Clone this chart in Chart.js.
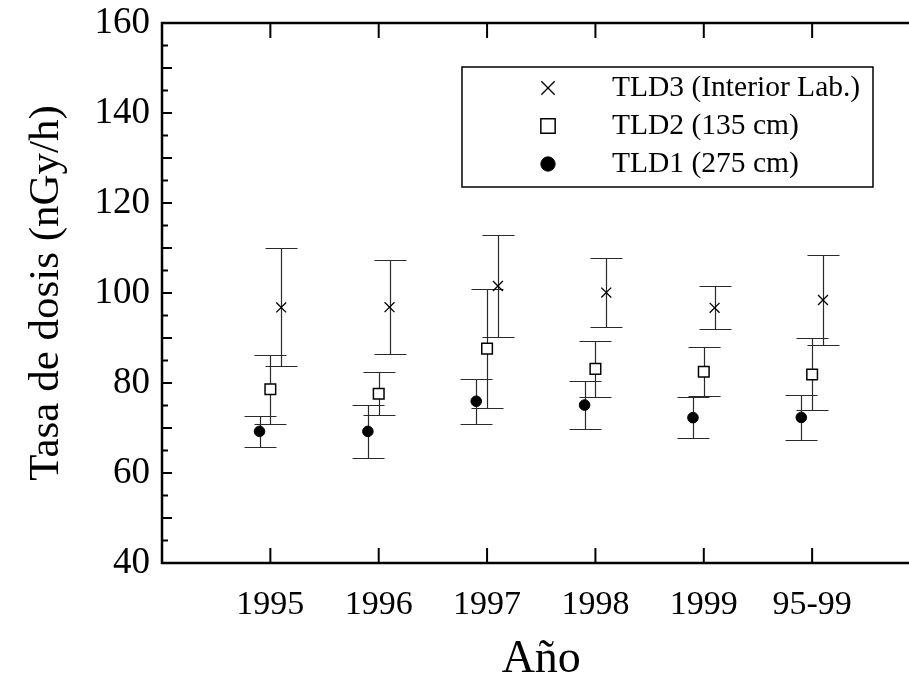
<!DOCTYPE html>
<html>
<head>
<meta charset="utf-8">
<script src="https://cdn.jsdelivr.net/npm/chart.js@4.4.1/dist/chart.umd.min.js"></script>
<style>
  html, body { margin: 0; padding: 0; background: #fff; overflow: hidden; }
  #wrap { width: 940px; height: 680px; }
</style>
</head>
<body>
<div id="wrap"><canvas id="myChart" width="940" height="680"></canvas></div>
<script>
const years = ['1995', '1996', '1997', '1998', '1999', '95-99'];

// dose rates (nGy/h) and their errors, one per year
const tld1 = [69.25, 69.25, 75.95, 75.1, 72.3, 72.35];
const tld1Err = [3.45, 5.95, 5.05, 5.3, 4.6, 4.95];
const tld2 = [78.6, 77.6, 87.65, 83.15, 82.5, 81.9];
const tld2Err = [7.6, 4.8, 13.15, 6.15, 5.4, 8.0];
const tld3 = [96.8, 96.85, 101.55, 100.1, 96.7, 98.45];
const tld3Err = [13.1, 10.45, 11.35, 7.7, 4.8, 9.95];

const yMin = 40, yMax = 160;
const SERIF = "'Liberation Serif', 'Times New Roman', serif";

function points(values, shift) {
    return values.map((v, i) => ({ x: i + 1 + shift, y: v }));
}

// vertical bars with caps, drawn under the markers
const errorBars = {
    id: 'errorBars',
    beforeDatasetsDraw(chart) {
        const { ctx, scales: { x, y } } = chart;
        ctx.save();
        ctx.strokeStyle = '#2a2a2a';
        ctx.lineWidth = 1.2;
        chart.data.datasets.forEach(ds => {
            ds.data.forEach((p, i) => {
                const px = Math.round(x.getPixelForValue(p.x)) + 0.5;
                const top = Math.round(y.getPixelForValue(p.y + ds.errors[i])) + 0.5;
                const bot = Math.round(y.getPixelForValue(p.y - ds.errors[i])) + 0.5;
                ctx.beginPath();
                ctx.moveTo(px, top);
                ctx.lineTo(px, bot);
                ctx.moveTo(px - 16, top);
                ctx.lineTo(px + 16, top);
                ctx.moveTo(px - 16, bot);
                ctx.lineTo(px + 16, bot);
                ctx.stroke();
            });
        });
        ctx.restore();
    }
};

// box frame with inward tick marks
const frame = {
    id: 'frame',
    afterDraw(chart) {
        const { ctx, chartArea: a, scales: { x, y } } = chart;
        ctx.save();
        ctx.strokeStyle = '#000';
        ctx.lineWidth = 2.5;
        ctx.strokeRect(a.left, a.top, a.right - a.left, a.bottom - a.top);
        ctx.lineWidth = 2;
        ctx.beginPath();
        for (let v = yMin + 5; v < yMax; v += 5) {
            const py = y.getPixelForValue(v);
            const len = v % 10 === 0 ? 10 : 6;
            ctx.moveTo(a.left, py);
            ctx.lineTo(a.left + len, py);
            ctx.moveTo(a.right, py);
            ctx.lineTo(a.right - len, py);
        }
        years.forEach((_, i) => {
            const px = x.getPixelForValue(i + 1);
            ctx.moveTo(px, a.bottom);
            ctx.lineTo(px, a.bottom - 15);
            ctx.moveTo(px, a.top);
            ctx.lineTo(px, a.top + 15);
        });
        ctx.stroke();
        ctx.restore();
    }
};

// boxed legend in the upper right of the plot, with enlarged symbols
const boxLegend = {
    id: 'boxLegend',
    afterDraw(chart) {
        const { ctx } = chart;
        ctx.save();
        ctx.strokeStyle = '#000';
        ctx.lineWidth = 1.5;
        ctx.strokeRect(462, 67, 411, 120);
        ctx.font = '29.5px ' + SERIF;
        ctx.textBaseline = 'middle';
        ctx.fillStyle = '#000';
        chart.data.datasets.forEach((ds, i) => {
            const rowY = 88 + i * 38;
            ctx.save();
            ctx.strokeStyle = ds.borderColor;
            ctx.fillStyle = ds.backgroundColor;
            ctx.lineWidth = ds.borderWidth;
            Chart.helpers.drawPoint(ctx, {
                pointStyle: ds.pointStyle,
                radius: ds.pointRadius * 1.35,
                borderWidth: ds.borderWidth,
                rotation: 0
            }, 548, rowY);
            ctx.restore();
            ctx.fillText(ds.label, 612, rowY);
        });
        ctx.restore();
    }
};

const ctx = document.getElementById('myChart');
new Chart(ctx, {
    type: 'scatter',
    data: {
        datasets: [
            {
                label: 'TLD3 (Interior Lab.)',
                data: points(tld3, 0.1),
                errors: tld3Err,
                pointStyle: 'crossRot',
                pointRadius: 7,
                borderWidth: 1.3,
                borderColor: '#000',
                backgroundColor: '#000'
            },
            {
                label: 'TLD2 (135 cm)',
                data: points(tld2, 0),
                errors: tld2Err,
                pointStyle: 'rect',
                pointRadius: 7.5,
                borderWidth: 1.5,
                borderColor: '#000',
                backgroundColor: '#fff'
            },
            {
                label: 'TLD1 (275 cm)',
                data: points(tld1, -0.1),
                errors: tld1Err,
                pointStyle: 'circle',
                pointRadius: 5.3,
                borderWidth: 1,
                borderColor: '#000',
                backgroundColor: '#000'
            }
        ]
    },
    options: {
        responsive: false,
        animation: false,
        layout: { padding: { top: 23, right: 19.5, left: 0, bottom: 0 } },
        plugins: {
            legend: { display: false },
            tooltip: { enabled: false }
        },
        scales: {
            x: {
                type: 'linear',
                min: 0,
                max: 7,
                grid: { display: false, drawTicks: false },
                border: { display: false },
                afterBuildTicks: scale => {
                    scale.ticks = years.map((_, i) => ({ value: i + 1 }));
                },
                afterFit: scale => {
                    scale.height = 117;
                    scale.paddingLeft = 0;
                    scale.paddingRight = 0;
                },
                ticks: {
                    autoSkip: false,
                    maxRotation: 0,
                    padding: 22,
                    color: '#000',
                    font: { family: SERIF, size: 34 },
                    callback: v => years[v - 1]
                },
                title: {
                    display: true,
                    text: 'Año',
                    color: '#000',
                    font: { family: SERIF, size: 46, lineHeight: 0.87 },
                    padding: { top: 0, bottom: 0 }
                }
            },
            y: {
                min: yMin,
                max: yMax,
                grid: { display: false, drawTicks: false },
                border: { display: false },
                afterFit: scale => {
                    scale.width = 162;
                    scale.paddingTop = 0;
                    scale.paddingBottom = 0;
                },
                ticks: {
                    stepSize: 20,
                    padding: 12,
                    color: '#000',
                    font: { family: SERIF, size: 37 }
                },
                title: {
                    display: true,
                    text: 'Tasa de dosis (nGy/h)',
                    color: '#000',
                    font: { family: SERIF, size: 43 },
                    padding: { top: 21, bottom: 0 }
                }
            }
        }
    },
    plugins: [errorBars, frame, boxLegend]
});
</script>
</body>
</html>
